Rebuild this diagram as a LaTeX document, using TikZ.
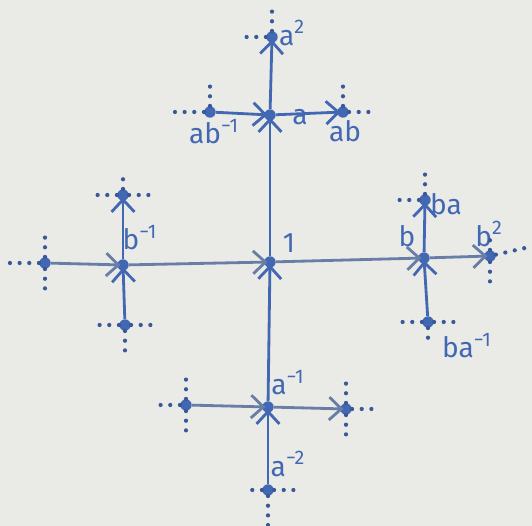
\documentclass[tikz,border=0pt]{standalone}
\usepackage{fontspec}
\setmainfont{Fira Sans}
\usepackage{xcolor}
\usepackage{tikz}
\usetikzlibrary{arrows.meta}
\definecolor{paper}{RGB}{234,234,230}
\definecolor{ink}{RGB}{66,104,180}
\definecolor{inkgr}{RGB}{104,126,166}
\tikzset{
  vx/.style  ={circle, fill=ink, inner sep=0pt, minimum size=6.5pt,
               label distance=1pt},
  ed/.style  ={draw=ink, line width=1.6pt, shorten >=-2pt,
               -{Straight Barb[length=7pt,width=13pt,line width=1.6pt]}},
  edg/.style ={ed, draw=inkgr},
  stub/.style={draw=ink!85!black, line width=2.4pt, line cap=round,
               dash pattern=on 0pt off 5.5pt},
  lab/.style ={text=ink, font=\fontsize{16}{18}\selectfont, inner sep=1pt},
}
\begin{document}
\begin{tikzpicture}[x=0.02cm,y=-0.02cm]
  \fill[paper] (0,0) rectangle (532,526);
  \useasboundingbox (0,0) rectangle (532,526);
  % vertices
  \node[vx] (e)   at (270,262) {};
  \node[vx] (a)   at (270,115) {};
  \node[vx] (aa)  at (272,37)  {};
  \node[vx] (ab)  at (343,112) {};
  \node[vx] (aB)  at (210,112) {};
  \node[vx] (b)   at (424,258) {};
  \node[vx] (bb)  at (490,256) {};
  \node[vx] (ba)  at (425,200) {};
  \node[vx] (bA)  at (428,322) {};
  \node[vx] (B)   at (123,265) {};
  \node[vx] (BB)  at (45,263)  {};
  \node[vx] (Ba)  at (123,195) {};
  \node[vx] (BA)  at (125,325) {};
  \node[vx] (A)   at (268,407) {};
  \node[vx] (AA)  at (268,490) {};
  \node[vx] (AB)  at (186,405) {};
  \node[vx] (Ab)  at (346,409) {};
  % labels
  \node[lab] at (289,243) {1};
  \node[lab] at (300,117) {a};
  \node[lab] at (292,33)  {a\textsuperscript{2}};
  \node[lab] at (214,132) {ab\textsuperscript{−1}};
  \node[lab] at (345,131) {ab};
  \node[lab] at (407,236) {b};
  \node[lab] at (489,234) {b\textsuperscript{2}};
  \node[lab] at (446,204) {ba};
  \node[lab] at (467,346) {ba\textsuperscript{−1}};
  \node[lab] at (140,238) {b\textsuperscript{−1}};
  \node[lab] at (288,383) {a\textsuperscript{−1}};
  \node[lab] at (288,464) {a\textsuperscript{−2}};
  % edges
  \draw[ed]  (e)  -- (a);
  \draw[ed]  (a)  -- (aa);
  \draw[ed]  (aB) -- (a);
  \draw[ed]  (a)  -- (ab);
  \draw[edg] (e)  -- (b);
  \draw[edg] (b)  -- (bb);
  \draw[ed]  (b)  -- (ba);
  \draw[ed]  (bA) -- (b);
  \draw[edg] (B)  -- (e);
  \draw[edg] (BB) -- (B);
  \draw[ed]  (B)  -- (Ba);
  \draw[ed]  (BA) -- (B);
  \draw[ed]  (A)  -- (e);
  \draw[ed]  (AA) -- (A);
  \draw[edg] (AB) -- (A);
  \draw[edg] (A)  -- (Ab);
  % loose ends
  \draw[stub] (aa) -- ++(-32,0);
  \draw[stub] (aa) -- ++(0,-32);
  \draw[stub] (aB) -- ++(-36,0);
  \draw[stub] (aB) -- ++(0,-30);
  \draw[stub] (ab) -- ++(0,-30);
  \draw[stub] (ab) -- ++(30,0);
  \draw[stub] (Ba) -- ++(-30,0);
  \draw[stub] (Ba) -- ++(32,0);
  \draw[stub] (Ba) -- ++(0,-20);
  \draw[stub] (BB) -- ++(-40,0);
  \draw[stub] (BB) -- ++(0,-30);
  \draw[stub] (BB) -- ++(0,30);
  \draw[stub] (BA) -- ++(-35,0);
  \draw[stub] (BA) -- ++(35,0);
  \draw[stub] (BA) -- ++(0,28);
  \draw[stub] (ba) -- ++(-30,0);
  \draw[stub] (ba) -- ++(0,-28);
  \draw[stub] (bb) -- ++(35,-8);
  \draw[stub] (bb) -- ++(0,-18);
  \draw[stub] (bb) -- ++(0,30);
  \draw[stub] (bA) -- ++(-30,0);
  \draw[stub] (bA) -- ++(33,0);
  \draw[stub] (bA) -- ++(0,18);
  \draw[stub] (AB) -- ++(-32,0);
  \draw[stub] (AB) -- ++(0,-28);
  \draw[stub] (AB) -- ++(0,35);
  \draw[stub] (Ab) -- ++(35,0);
  \draw[stub] (Ab) -- ++(0,-28);
  \draw[stub] (Ab) -- ++(0,32);
  \draw[stub] (AA) -- ++(-25,0);
  \draw[stub] (AA) -- ++(26,0);
  \draw[stub] (AA) -- ++(0,36);
\end{tikzpicture}
\end{document}
